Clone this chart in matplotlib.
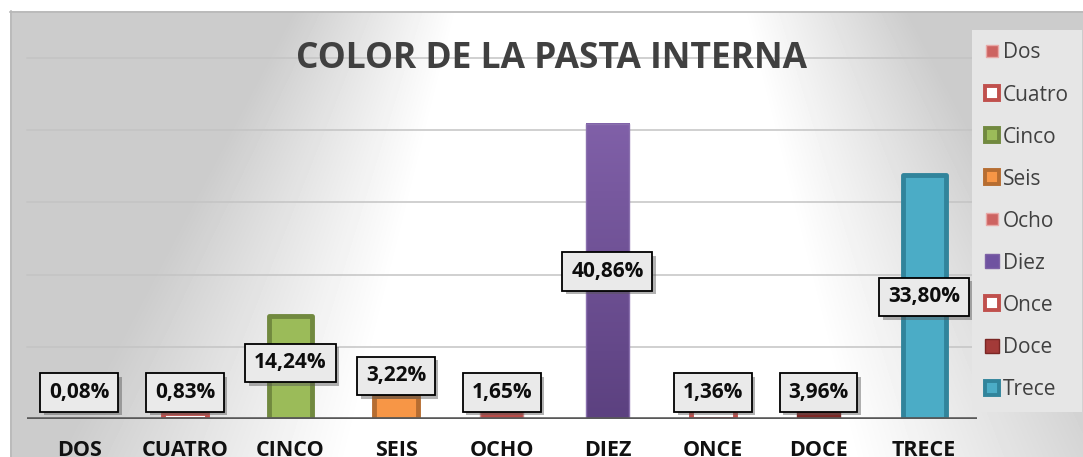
import numpy as np
import matplotlib.pyplot as plt
from matplotlib.lines import Line2D
from matplotlib.colors import LinearSegmentedColormap
from matplotlib import patheffects as pe

plt.rcParams['font.family'] = ['Open Sans', 'DejaVu Sans']

# data
categories = ["DOS", "CUATRO", "CINCO", "SEIS", "OCHO", "DIEZ", "ONCE", "DOCE", "TRECE"]
series_names = ["Dos", "Cuatro", "Cinco", "Seis", "Ocho", "Diez", "Once", "Doce", "Trece"]
percentages = [0.08, 0.83, 14.24, 3.22, 1.65, 40.86, 1.36, 3.96, 33.80]
grid_ticks = [10, 20, 30, 40, 50]

# bar styles (one series per category)
bar_faces = ['#C9605D', 'white', '#9BBB59', '#F79646', '#B84C49', 'none', 'white', 'none', '#4BACC6']
bar_edges = ['#E0A09E', '#C0504D', '#71893F', '#B66D31', '#D08A88', '#8A70AE', '#C0504D', '#7A2624', '#31849B']
bar_lw = [1, 3.5, 3.5, 3.5, 1, 1, 3.5, 1, 3.5]
bar_gradients = {"DIEZ": ('#8060A8', '#5C4180'), "DOCE": ('#A33C3A', '#7A2624')}

# legend swatches
leg_faces = ['#CD6361', 'white', '#9BBB59', '#F79646', '#CD6361', '#6F52A0', 'white', '#A33A38', '#4BACC6']
leg_edges = ['#E8A8A6', '#C0504D', '#71893F', '#B66D31', '#E8A8A6', '#7E62A6', '#C0504D', '#7A2624', '#31849B']
leg_size = [9, 10, 10, 10, 9, 10, 10, 10, 10]
leg_mew = [1, 2.8, 2.8, 2.8, 1, 1, 2.8, 1, 2.8]

# labels moved up by hand in the workbook
label_floor = 3.67
label_nudge = {"CINCO": 0.65, "SEIS": 2.3}

W, H = 1083, 457
fig = plt.figure(figsize=(W / 100, H / 100), dpi=100)

#############################################################################
# Background #
bg = fig.add_axes([0, 0, 1, 1], zorder=-10)
yy, xx = np.mgrid[0:H, 0:W]
t = np.abs(xx - 600) / (200 + 0.35 * yy)
shade = 1 - 0.2 * np.clip((t - 0.7) / 0.8, 0, 1)
shade[:11, :] = 1
shade[:, :10] = 1
bg.imshow(shade, cmap='gray', vmin=0, vmax=1, extent=[0, W, H, 0],
          aspect='auto', interpolation='bilinear')
bg.plot([10, W], [11.5, 11.5], color='#B8B8B8', lw=1.2)
bg.plot([10.5, 10.5], [11, H], color='#B8B8B8', lw=1.2)
bg.set_xlim(0, W)
bg.set_ylim(H, 0)
bg.axis('off')

#############################################################################
# Bars #
ax = fig.add_axes([26.5 / W, (H - 419) / H, (977 - 26.5) / W, (419 - 58) / H])
ax.patch.set_alpha(0)
x = np.arange(len(categories))

bars = ax.bar(x, percentages, width=0.41, zorder=3)
for i, b in enumerate(bars):
    b.set_facecolor(bar_faces[i])
    b.set_edgecolor(bar_edges[i])
    b.set_linewidth(bar_lw[i])
    b.set_joinstyle('round')
    name = categories[i]
    if name in bar_gradients:
        cmap = LinearSegmentedColormap.from_list(name, bar_gradients[name][::-1])
        grad = np.linspace(1, 0, 100).reshape(-1, 1)
        x0 = b.get_x()
        ax.imshow(grad, cmap=cmap, vmin=0, vmax=1, aspect='auto',
                  extent=[x0, x0 + b.get_width(), 0, b.get_height()],
                  clip_path=b, zorder=2.9)

ax.set_xlim(-0.5, 8.5)
ax.set_ylim(0, 50)
ax.set_yticks(grid_ticks)
ax.yaxis.grid(True, color='#C4C4C4', lw=1.1)
for gl in ax.get_ygridlines():
    gl.set_clip_on(False)
ax.set_axisbelow(True)
ax.tick_params(axis='y', left=False, labelleft=False)
for s in ax.spines.values():
    s.set_visible(False)
ax.axhline(0, color='#595959', lw=2.6, zorder=5)

ax.set_xticks(x)
ax.set_xticklabels(categories, fontsize=15.5, fontweight='bold', color='#111111')
ax.tick_params(axis='x', length=0, pad=15)

# value labels in boxes
for i, v in enumerate(percentages):
    y = max(v / 2, label_floor) + label_nudge.get(categories[i], 0)
    txt = ax.text(x[i], y, f"{v:.2f}%".replace('.', ','), ha='center', va='center',
                  fontsize=15, fontweight='bold', color='#0D0D0D', zorder=6,
                  bbox=dict(boxstyle='square,pad=0.42', fc='#EAEAEA', ec='black', lw=1.3))
    txt.get_bbox_patch().set_path_effects(
        [pe.SimplePatchShadow(offset=(2.5, -2.5), shadow_rgbFace='#555555', alpha=0.45), pe.Normal()])

#############################################################################
# Title and legend #
fig.text(552 / W, 1 - 59 / H, "COLOR DE LA PASTA INTERNA", ha='center', va='center',
         fontsize=25.5, fontweight='bold', color='#404040')

handles = [Line2D([], [], ls='none', marker='s', ms=leg_size[i], mfc=leg_faces[i],
                  mec=leg_edges[i], mew=leg_mew[i]) for i in range(len(series_names))]
leg = fig.legend(handles, series_names, loc='upper left',
                 bbox_to_anchor=(972 / W, 1 - 30 / H), borderaxespad=0,
                 fontsize=15, labelcolor='#404040', frameon=True, fancybox=False,
                 facecolor='#E6E6E6', edgecolor='none', framealpha=1,
                 handlelength=0.7, handletextpad=0.2, labelspacing=1.01, borderpad=0.6)

fig.savefig('out.png', dpi=100)
